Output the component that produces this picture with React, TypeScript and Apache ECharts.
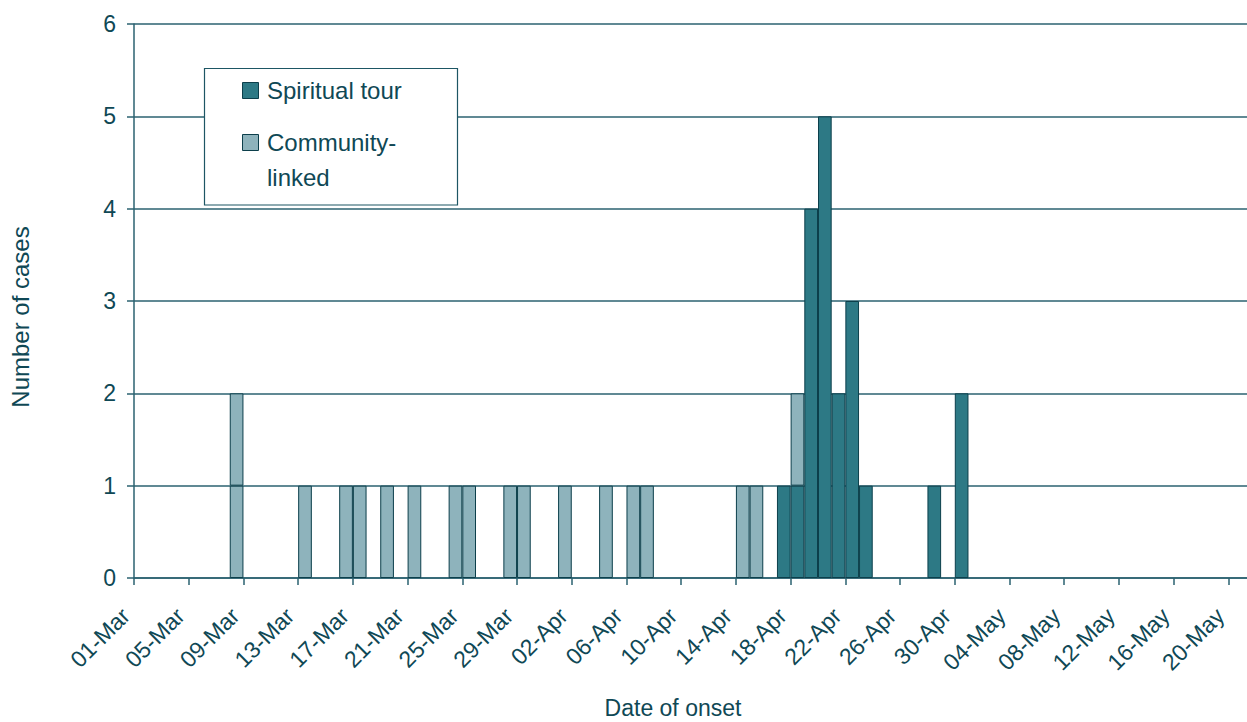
import React, { useEffect, useRef } from 'react';
import * as echarts from 'echarts';

// Days shown on the category axis (01-Mar .. 21-May), built from month names and lengths
const monthSpans: [string, number][] = [['Mar', 31], ['Apr', 30], ['May', 22]];
const days: string[] = [];
monthSpans.forEach(([m, n]) => {
  for (let d = 1; d <= n; d++) days.push(String(d).padStart(2, '0') + '-' + m);
});
const dayCategories = days.slice(0, 82); // 01-Mar .. 21-May
const boundaryCategories = days.slice(0, 83); // day boundaries, 01-Mar .. 22-May

const tickLabels = [
  '01-Mar', '05-Mar', '09-Mar', '13-Mar', '17-Mar', '21-Mar', '25-Mar', '29-Mar',
  '02-Apr', '06-Apr', '10-Apr', '14-Apr', '18-Apr', '22-Apr', '26-Apr', '30-Apr',
  '04-May', '08-May', '12-May', '16-May', '20-May',
];

const yTicks = [0, 1, 2, 3, 4, 5, 6];

// Number of cases per day of onset
const spiritualTour = [
  0, 0, 0, 0, 0, 0, 0, 0, 0, 0,
  0, 0, 0, 0, 0, 0, 0, 0, 0, 0,
  0, 0, 0, 0, 0, 0, 0, 0, 0, 0,
  0, 0, 0, 0, 0, 0, 0, 0, 0, 0,
  0, 0, 0, 0, 0, 0, 0, 1, 1, 4,
  5, 2, 3, 1, 0, 0, 0, 0, 1, 0,
  2, 0, 0, 0, 0, 0, 0, 0, 0, 0,
  0, 0, 0, 0, 0, 0, 0, 0, 0, 0,
  0, 0,
];

const communityLinked = [
  0, 0, 0, 0, 0, 0, 0, 2, 0, 0,
  0, 0, 1, 0, 0, 1, 1, 0, 1, 0,
  1, 0, 0, 1, 1, 0, 0, 1, 1, 0,
  0, 1, 0, 0, 1, 0, 1, 1, 0, 0,
  0, 0, 0, 0, 1, 1, 0, 0, 1, 0,
  0, 0, 0, 0, 0, 0, 0, 0, 0, 0,
  0, 0, 0, 0, 0, 0, 0, 0, 0, 0,
  0, 0, 0, 0, 0, 0, 0, 0, 0, 0,
  0, 0,
];

const seriesNames = ['Spiritual tour', 'Community-linked'];

const TEXT = '#0f4855';
const LINE = '#2b6270';
const DARK = '#2d7985';
const LIGHT = '#8eb3bc';
const BORDER = '#0c3f4b';
const FONT = '"Liberation Sans", Arial, Helvetica, sans-serif';

const DAY_W = 13.68;

function buildOption(): any {
  const blank = (v: number) => (v > 0 ? v : '-');
  // community-linked cases drawn as stacked unit boxes
  const maxC = Math.max(...communityLinked);
  const communityLayers: any[] = [];
  for (let k = 1; k <= maxC; k++) {
    communityLayers.push({
      name: seriesNames[1],
      type: 'bar',
      stack: 'cases',
      xAxisIndex: 0,
      barCategoryGap: 0,
      barGap: 0,
      itemStyle: { color: LIGHT, borderColor: BORDER, borderWidth: 1 },
      data: communityLinked.map((c) => (c >= k ? 1 : '-')),
    });
  }

  return {
    animation: false,
    textStyle: { fontFamily: FONT },
    grid: {
      left: 134,
      top: 24,
      width: DAY_W * dayCategories.length,
      height: 554,
      containLabel: false,
      outerBoundsMode: 'none',
    },
    xAxis: [
      {
        type: 'category',
        data: dayCategories,
        boundaryGap: true,
        axisLine: { show: true, lineStyle: { color: LINE, width: 1.5 } },
        axisTick: { show: false },
        axisLabel: { show: false },
        splitLine: { show: false },
      },
      {
        type: 'category',
        position: 'bottom',
        data: boundaryCategories,
        boundaryGap: false,
        axisLine: { show: false },
        axisTick: { show: true, interval: 3, length: 7, lineStyle: { color: LINE, width: 1.5 } },
        axisLabel: {
          show: true,
          interval: 3,
          rotate: 45,
          margin: 42,
          fontSize: 23,
          lineHeight: 23,
          color: TEXT,
          fontFamily: FONT,
          verticalAlign: 'bottom',
          formatter: (_v: string, idx: number) => tickLabels[idx / 4] ?? '',
        },
        splitLine: { show: false },
      },
    ],
    yAxis: {
      type: 'value',
      min: yTicks[0],
      max: yTicks[yTicks.length - 1],
      interval: 1,
      axisLine: { show: true, lineStyle: { color: LINE, width: 1.5 } },
      axisTick: { show: true, length: 7, lineStyle: { color: LINE, width: 1.5 } },
      axisLabel: { fontSize: 23, color: TEXT, margin: 18, fontFamily: FONT },
      splitLine: { show: true, lineStyle: { color: LINE, width: 1.5 } },
    },
    series: [
      {
        name: seriesNames[0],
        type: 'bar',
        stack: 'cases',
        xAxisIndex: 0,
        barCategoryGap: 0,
        barGap: 0,
        itemStyle: { color: DARK, borderColor: BORDER, borderWidth: 1 },
        data: spiritualTour.map(blank),
      },
      ...communityLayers,
    ],
    graphic: [
      {
        type: 'text',
        z: 100,
        x: 20,
        y: 317,
        rotation: Math.PI / 2,
        style: {
          text: 'Number of cases',
          fill: TEXT,
          font: `24px ${FONT}`,
          textAlign: 'center',
          textVerticalAlign: 'middle',
        },
      },
      {
        type: 'text',
        z: 100,
        x: 673,
        y: 708,
        style: {
          text: 'Date of onset',
          fill: TEXT,
          font: `23px ${FONT}`,
          textAlign: 'center',
          textVerticalAlign: 'middle',
        },
      },
      {
        type: 'group',
        z: 100,
        children: [
          {
            type: 'rect',
            z: 100,
            shape: { x: 204.5, y: 68.5, width: 253, height: 136.5 },
            style: { fill: '#ffffff', stroke: '#1d5664', lineWidth: 1.2 },
          },
          {
            type: 'rect',
            z: 101,
            shape: { x: 242.5, y: 82.5, width: 16, height: 16 },
            style: { fill: DARK, stroke: BORDER, lineWidth: 1 },
          },
          {
            type: 'text',
            z: 101,
            x: 267,
            y: 90,
            style: { text: seriesNames[0], fill: TEXT, font: `24px ${FONT}`, textVerticalAlign: 'middle' },
          },
          {
            type: 'rect',
            z: 101,
            shape: { x: 242.5, y: 134.5, width: 16, height: 16 },
            style: { fill: LIGHT, stroke: BORDER, lineWidth: 1 },
          },
          {
            type: 'text',
            z: 101,
            x: 267,
            y: 142,
            style: { text: 'Community-', fill: TEXT, font: `24px ${FONT}`, textVerticalAlign: 'middle' },
          },
          {
            type: 'text',
            z: 101,
            x: 267,
            y: 177,
            style: { text: 'linked', fill: TEXT, font: `24px ${FONT}`, textVerticalAlign: 'middle' },
          },
        ],
      },
    ],
  };
}

export default function App() {
  const ref = useRef<HTMLDivElement>(null);
  useEffect(() => {
    if (!ref.current) return;
    const chart = echarts.init(ref.current, null, { renderer: 'svg' });
    chart.setOption(buildOption());
    return () => chart.dispose();
  }, []);
  return (
    <div
      ref={ref}
      style={{ position: 'absolute', left: 0, top: 0, width: 1247, height: 722, background: '#ffffff' }}
    />
  );
}
